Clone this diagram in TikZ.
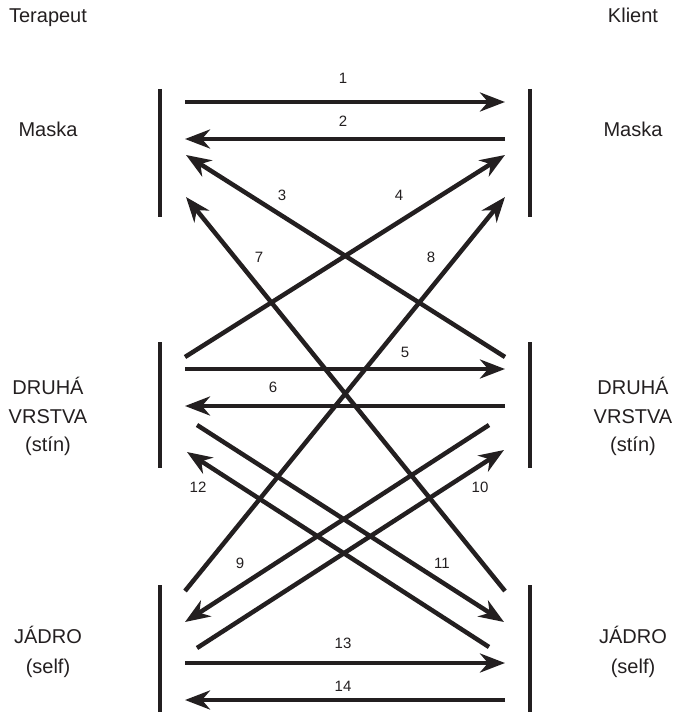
\documentclass[tikz,border=0pt]{standalone}
\usepackage{fontspec}
\setmainfont{Liberation Sans}
\usepackage{tikz}
\usetikzlibrary{arrows.meta}

\definecolor{ink}{RGB}{35,31,32}

\tikzset{
  bar/.style={line width=4.5bp, draw=ink},
  flow/.style={line width=4.5bp, draw=ink, -{Stealth[length=25bp, width=19bp, inset=8bp]}},
  layer/.style={font=\fontsize{20bp}{24bp}\selectfont, text=ink, anchor=base, inner sep=0pt},
  num/.style={font=\fontsize{15bp}{18bp}\selectfont, text=ink, inner sep=0pt},
}

\begin{document}
\begin{tikzpicture}[x=1bp, y=-1bp]
        \useasboundingbox (0,0) rectangle (679,712);

        % side headings
        \node[layer] (terapeut) at (48,23) {Terapeut};
        \node[layer] (klient) at (633,23) {Klient};

        % layer names
        \node[layer] (maskaT) at (48,137) {Maska};
        \node[layer] (maskaK) at (633,137) {Maska};
        \node[layer] (druhaT) at (48,394) {DRUHÁ};
        \node[layer] (vrstvaT) at (48,423) {VRSTVA};
        \node[layer] (stinT) at (48,451) {(stín)};
        \node[layer] (druhaK) at (633,394) {DRUHÁ};
        \node[layer] (vrstvaK) at (633,423) {VRSTVA};
        \node[layer] (stinK) at (633,451) {(stín)};
        \node[layer] (jadroT) at (48,643) {JÁDRO};
        \node[layer] (selfT) at (48,673) {(self)};
        \node[layer] (jadroK) at (633,643) {JÁDRO};
        \node[layer] (selfK) at (633,673) {(self)};

        % bars
        \foreach \x in {160, 530} {
            \draw[bar] (\x,89) -- (\x,217);
            \draw[bar] (\x,342) -- (\x,468);
            \draw[bar] (\x,585) -- (\x,712);
        }

        % end points, therapist side (t) and client side (k)
        \foreach \n/\x/\y in {t1/185/102, t2/185/139, t3/186/155, t4/186/197,
                              t5/185/357, t6/185/369, t7/185/406, t8/197/425,
                              t9/187/452, t10/185/591, t11/185/622, t12/197/648,
                              t13/185/663, t14/185/700,
                              k1/505/102, k2/505/139, k3/505/155, k4/505/197,
                              k5/505/357, k6/505/369, k7/505/406, k8/489/425,
                              k9/504/450, k10/505/591, k11/504/622, k12/489/647,
                              k13/505/663, k14/505/700} {
            \coordinate (\n) at (\x,\y);
        }

        % arrows with their numbers
        \foreach \s/\e/\i/\lx/\ly in {t1/k1/1/343/78, k2/t2/2/343/121,
                                      k5/t3/3/282/195, t5/k3/4/399/195,
                                      t6/k6/5/405/352, k7/t7/6/273/387,
                                      k10/t4/7/259/257, t10/k4/8/431/257,
                                      k8/t11/9/240/563, t12/k9/10/480/487,
                                      t8/k11/11/442/563, k12/t9/12/198/487,
                                      t13/k13/13/343/643, k14/t14/14/343/686} {
            \draw[flow] (\s) -- (\e);
            \node[num] (n\i) at (\lx,\ly) {\i};
        }

    \end{tikzpicture}
\end{document}
